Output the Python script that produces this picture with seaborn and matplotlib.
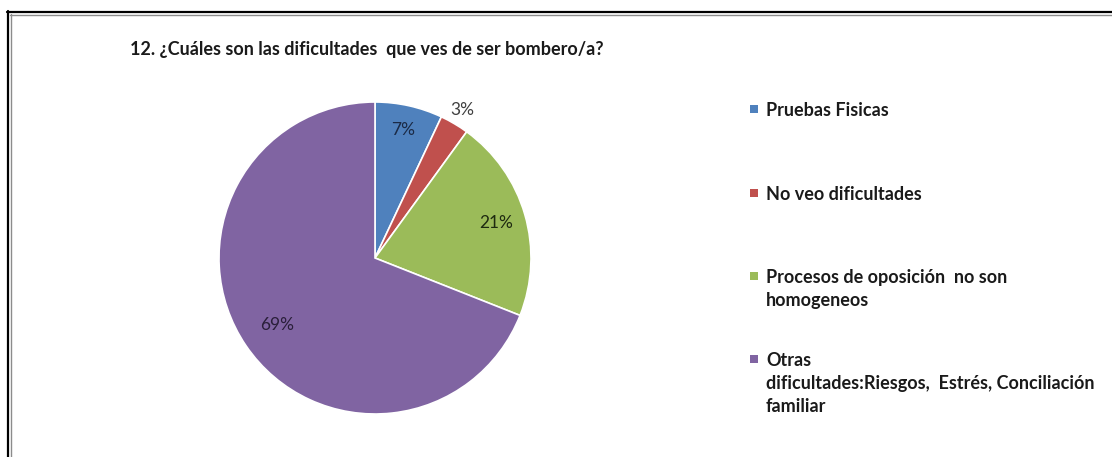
import matplotlib
matplotlib.use("Agg")
import matplotlib.pyplot as plt
import seaborn as sns
import numpy as np
from matplotlib.patches import Rectangle
from matplotlib.lines import Line2D

sns.set_theme(style="white")
plt.rcParams['font.family'] = ['Lato', 'DejaVu Sans']

title = "12. ¿Cuáles son las dificultades  que ves de ser bombero/a?"
categories = [
    "Pruebas Fisicas",
    "No veo dificultades",
    "Procesos de oposición  no son\nhomogeneos",
    "Otras\ndificultades:Riesgos,  Estrés, Conciliación\nfamiliar",
]
values = [7, 3, 21, 69]
pct_labels = ["7%", "3%", "21%", "69%"]
colors = ["#4F81BD", "#C0504D", "#9BBB59", "#8064A2"]
label_colors = ["#1b2a45", "#404040", "#1e2a10", "#2a1f3a"]
label_dist = [0.84, 1.10, 0.81, 0.76]

W, H = 1112, 457
fig = plt.figure(figsize=(W / 100, H / 100), dpi=100)
fig.patch.set_facecolor("white")

cx, cy, r = 375, 258, 156
ax = fig.add_axes([(cx - r) / W, 1 - (cy + r) / H, 2 * r / W, 2 * r / H])
wedges, _ = ax.pie(values, colors=colors, startangle=90, counterclock=False,
                   wedgeprops=dict(edgecolor="white", linewidth=1.2))
ax.set_xlim(-1, 1)
ax.set_ylim(-1, 1)
ax.set_aspect("equal")
ax.axis("off")

for w, lab, col, d in zip(wedges, pct_labels, label_colors, label_dist):
    ang = np.deg2rad((w.theta1 + w.theta2) / 2)
    ax.text(d * np.cos(ang), d * np.sin(ang), lab, ha="center", va="center",
            fontsize=12.5, color=col, clip_on=False)

fig.text(130 / W, 1 - 49 / H, title, fontsize=13, fontweight="bold",
         color="#1a1a1a", ha="left", va="center")

# legend
first_line_y = [109, 193, 276, 359]
for lab, col, yy in zip(categories, colors, first_line_y):
    fig.patches.append(Rectangle((750 / W, 1 - (yy + 4) / H), 8 / W, 8 / H,
                                 transform=fig.transFigure, facecolor=col,
                                 edgecolor="none"))
    fig.text(766 / W, 1 - (yy - 7) / H, lab, fontsize=13, fontweight="bold",
             color="#1a1a1a", ha="left", va="top", linespacing=1.42)

# frame lines (top & left)
fig.add_artist(Line2D([7 / W, 1], [1 - 12 / H, 1 - 12 / H], color="black", lw=1.6,
                      transform=fig.transFigure))
fig.add_artist(Line2D([10 / W, 1], [1 - 15 / H, 1 - 15 / H], color="#8c8c8c", lw=1.0,
                      transform=fig.transFigure))
fig.add_artist(Line2D([7.5 / W, 7.5 / W], [0, 1 - 11 / H], color="black", lw=1.6,
                      transform=fig.transFigure))
fig.add_artist(Line2D([10.5 / W, 10.5 / W], [0, 1 - 14 / H], color="#8c8c8c", lw=1.0,
                      transform=fig.transFigure))

fig.savefig("out.png", dpi=100, facecolor="white")
